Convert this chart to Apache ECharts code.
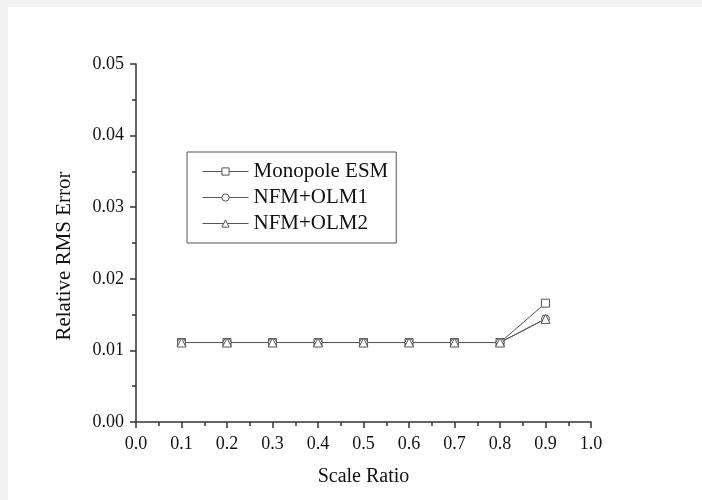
<!DOCTYPE html>
<html><head><meta charset="utf-8">
<script src="https://cdn.jsdelivr.net/npm/echarts@6/dist/echarts.min.js"></script>
<style>html,body{margin:0;padding:0;background:#f2f2f2;}#c{width:702px;height:500px;}</style>
</head><body><div id="c"></div>
<script>
const scaleRatio = [0.1, 0.2, 0.3, 0.4, 0.5, 0.6, 0.7, 0.8, 0.9];
const monopoleESM = [0.0111, 0.0111, 0.0111, 0.0111, 0.0111, 0.0111, 0.0111, 0.0111, 0.0166];
const nfmOlm1 = [0.0111, 0.0111, 0.0111, 0.0111, 0.0111, 0.0111, 0.0111, 0.0111, 0.0144];
const nfmOlm2 = [0.0111, 0.0111, 0.0111, 0.0111, 0.0111, 0.0111, 0.0111, 0.0111, 0.0144];
const seriesNames = ['Monopole ESM', 'NFM+OLM1', 'NFM+OLM2'];
const xAxisTitle = 'Scale Ratio';
const yAxisTitle = 'Relative RMS Error';

const chart = echarts.init(document.getElementById('c'));
const font = 'Liberation Serif';
function mk(name, data, symbol, size) {
  return {
    name: name, type: 'line',
    data: scaleRatio.map((x, i) => [x, data[i]]),
    symbol: symbol, symbolSize: size, showAllSymbol: true,
    lineStyle: {color: '#555', width: 1},
    itemStyle: {color: '#fff', borderColor: '#555', borderWidth: 1},
    emphasis: {disabled: true}, animation: false
  };
}
chart.setOption({
  backgroundColor: '#f2f2f2',
  animation: false,
  graphic: [
    {type: 'rect', z: -10, silent: true, shape: {x: 8, y: 7, width: 694, height: 493}, style: {fill: '#fff'}},
    {type: 'text', x: 64, y: 256, rotation: Math.PI / 2, silent: true,
     style: {text: yAxisTitle, fontFamily: font, fontSize: 21, fill: '#111', align: 'center', verticalAlign: 'middle'}}
  ],
  grid: {left: 136, right: 111, top: 64, bottom: 78},
  legend: {
    data: seriesNames,
    orient: 'vertical', left: 187, top: 152,
    padding: [9, 8, 9, 15],
    itemGap: 5, itemWidth: 46, itemHeight: 9,
    borderColor: '#555', borderWidth: 1, backgroundColor: '#fff',
    textStyle: {fontFamily: font, fontSize: 21, color: '#111'},
    itemStyle: {color: '#fff', borderColor: '#555', borderWidth: 1},
    lineStyle: {color: '#555', width: 1}
  },
  xAxis: {
    type: 'value', min: 0, max: 1, interval: 0.1,
    name: xAxisTitle, nameLocation: 'middle', nameGap: 45,
    nameTextStyle: {fontFamily: font, fontSize: 20, color: '#111'},
    axisLine: {onZero: false, lineStyle: {color: '#333', width: 1.5}},
    axisTick: {show: true, inside: false, length: 6, lineStyle: {color: '#333', width: 1.5}},
    minorTick: {show: true, splitNumber: 2, length: 4, lineStyle: {color: '#333', width: 1.5}},
    splitLine: {show: false},
    axisLabel: {fontFamily: font, fontSize: 18, color: '#111', margin: 13, formatter: v => v.toFixed(1)}
  },
  yAxis: {
    type: 'value', min: 0, max: 0.05, interval: 0.01,
    axisLine: {show: true, onZero: false, lineStyle: {color: '#333', width: 1.5}},
    axisTick: {show: true, inside: false, length: 6, lineStyle: {color: '#333', width: 1.5}},
    minorTick: {show: true, splitNumber: 2, length: 4, lineStyle: {color: '#333', width: 1.5}},
    splitLine: {show: false},
    axisLabel: {fontFamily: font, fontSize: 18, color: '#111', margin: 12, formatter: v => v.toFixed(2)}
  },
  series: [
    mk(seriesNames[0], monopoleESM, 'rect', 8),
    mk(seriesNames[1], nfmOlm1, 'circle', 8),
    mk(seriesNames[2], nfmOlm2, 'triangle', 9)
  ]
});
</script></body></html>
